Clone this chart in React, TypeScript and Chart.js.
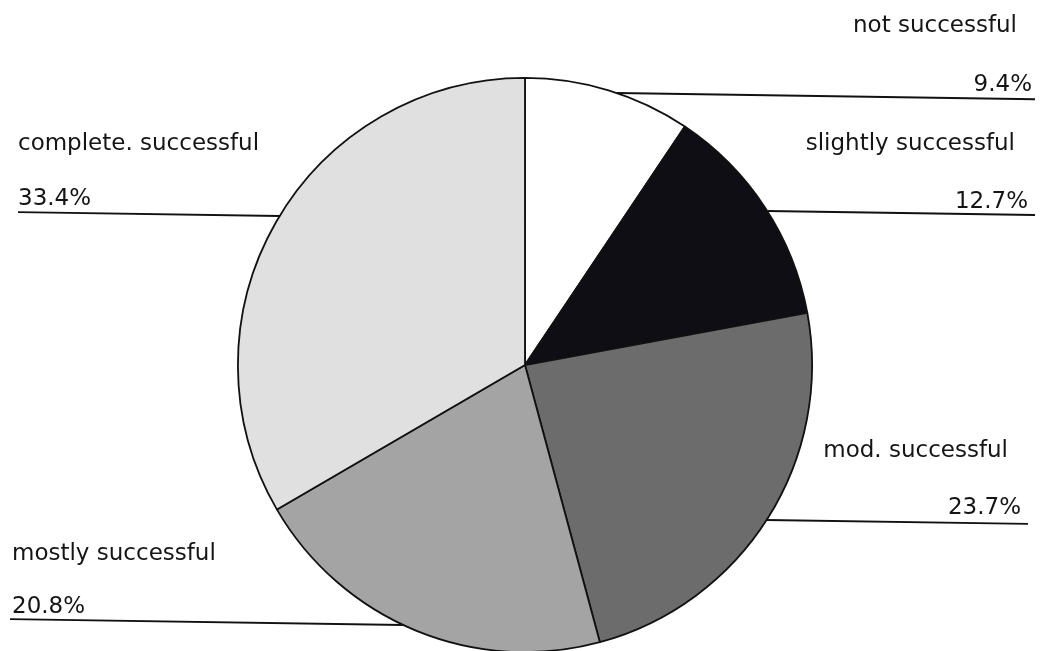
import { useEffect, useRef } from "react";
import { Chart, registerables } from "chart.js";

Chart.register(...registerables);

// Ratings of success, clockwise from 12 o'clock
const categories = [
  "not successful",
  "slightly successful",
  "mod. successful",
  "mostly successful",
  "complete. successful",
];
const shares = [9.4, 12.7, 23.7, 20.8, 33.4];
const fills = ["#ffffff", "#0e0e14", "#6c6c6c", "#a4a4a4", "#e0e0e0"];

// Where each callout sits: side, name baseline, value baseline, leader y, outer end x
const callouts = [
  { side: "right", nameY: 32, valueY: 91, lineY: 93, nameX: 1017, valueX: 1032, endX: 1035 },
  { side: "right", nameY: 150, valueY: 208, lineY: 211, nameX: 1015, valueX: 1028, endX: 1035 },
  { side: "right", nameY: 457, valueY: 514, lineY: 520, nameX: 1008, valueX: 1021, endX: 1028 },
  { side: "left", nameY: 560, valueY: 613, lineY: 625, nameX: 12, valueX: 12, endX: 10 },
  { side: "left", nameY: 150, valueY: 205, lineY: 216, nameX: 18, valueX: 18, endX: 18 },
];

const calloutPlugin = {
  id: "callouts",
  afterDatasetsDraw(chart: any) {
    const arc = chart.getDatasetMeta(0).data[0];
    if (!arc) return;
    const { x: cx, y: cy, outerRadius: r } = arc;
    const ctx = chart.ctx;
    ctx.save();
    ctx.font = "23px 'DejaVu Sans'";
    ctx.fillStyle = "#151515";
    ctx.strokeStyle = "#111";
    ctx.lineWidth = 1.8;
    ctx.textBaseline = "alphabetic";
    callouts.forEach((c, i) => {
      const dy = c.lineY - cy;
      const dx = Math.sqrt(Math.max(r * r - dy * dy, 0));
      const startX = c.side === "right" ? cx + dx : cx - dx;
      const tilt = 0.015;
      ctx.beginPath();
      if (c.side === "right") {
        ctx.moveTo(startX, c.lineY);
        ctx.lineTo(c.endX, c.lineY + tilt * (c.endX - startX));
      } else {
        ctx.moveTo(c.endX, c.lineY - tilt * (startX - c.endX));
        ctx.lineTo(startX, c.lineY);
      }
      ctx.stroke();
      ctx.textAlign = c.side === "right" ? "right" : "left";
      ctx.fillText(categories[i], c.nameX, c.nameY);
      ctx.fillText(shares[i].toFixed(1) + "%", c.valueX, c.valueY);
    });
    ctx.restore();
  },
};

export default function App() {
  const canvasRef = useRef<HTMLCanvasElement | null>(null);

  useEffect(() => {
    document.body.style.margin = "0";
    const canvas = canvasRef.current;
    if (!canvas) return;
    const chart = new Chart(canvas, {
      type: "pie",
      data: {
        labels: categories,
        datasets: [
          {
            data: shares,
            backgroundColor: fills,
            borderColor: "#111",
            borderWidth: 1.8,
          },
        ],
      },
      options: {
        responsive: false,
        animation: false,
        layout: { padding: { left: 8, right: 0, top: 77, bottom: 0 } },
        plugins: {
          legend: { display: false },
          tooltip: { enabled: false },
        },
      },
      plugins: [calloutPlugin],
    });
    return () => chart.destroy();
  }, []);

  return (
    <div style={{ width: 1042, height: 651, overflow: "hidden", background: "#fff" }}>
      <canvas ref={canvasRef} width={1042} height={653} style={{ display: "block" }} />
    </div>
  );
}
